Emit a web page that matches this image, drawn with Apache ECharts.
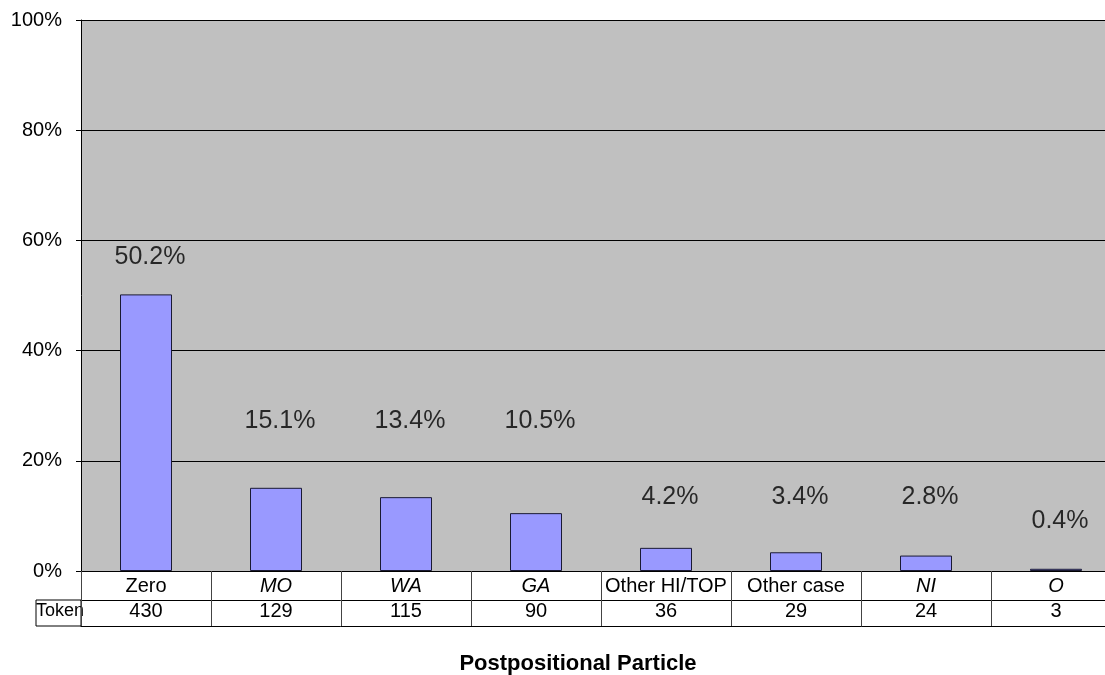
<html lang="en">
<head>
    <meta charset="UTF-8">
    <title>Postpositional Particle</title>
    <script src="https://cdn.jsdelivr.net/npm/echarts@6/dist/echarts.min.js"></script>
    <style type="text/css">
        html, body {
            margin: 0;
            padding: 0;
            background: #fff;
            overflow: hidden;
        }
        /* the plot runs past the right edge of the window, as in the original */
        #main {
            width: 1125px;
            height: 675px;
        }
    </style>
</head>
<body>
<div id="main"></div>
<script>
    // data
    var particles = ['Zero', 'MO', 'WA', 'GA', 'Other HI/TOP', 'Other case', 'NI', 'O'];
    var italicNames = ['MO', 'WA', 'GA', 'NI', 'O'];
    var shares = [50.2, 15.1, 13.4, 10.5, 4.2, 3.4, 2.8, 0.4];
    var tokens = [430, 129, 115, 90, 36, 29, 24, 3];
    var yTicks = [0, 0.2, 0.4, 0.6, 0.8, 1];
    // where Excel put the value labels (in axis units)
    var labelAt = [0.57, 0.272, 0.272, 0.272, 0.134, 0.134, 0.134, 0.091];

    var FONT = '"Liberation Sans", Arial, sans-serif';
    var GL = 81, GT = 20, GW = 1040, GH = 551;
    var ROW1 = 29, ROW2 = 26;

    var myChart = echarts.init(document.getElementById('main'));

    option = {
        animation: false,
        textStyle: {fontFamily: FONT, color: '#000'},
        title: {
            text: 'Postpositional Particle',
            left: 573,
            textAlign: 'center',
            top: 648,
            textStyle: {fontFamily: FONT, fontSize: 22, fontWeight: 'bold', color: '#000'}
        },
        grid: {
            left: GL,
            top: GT,
            width: GW,
            height: GH,
            show: true,
            backgroundColor: '#c0c0c0',
            borderWidth: 0
        },
        xAxis: [
            {
                type: 'category',
                data: particles,
                position: 'bottom',
                axisLine: {lineStyle: {color: '#000', width: 1}},
                axisTick: {show: true, length: ROW1 + ROW2, lineStyle: {color: '#444'}},
                axisLabel: {
                    interval: 0,
                    margin: 4,
                    fontSize: 20,
                    lineHeight: 22,
                    color: '#000',
                    formatter: function (v) {
                        return italicNames.indexOf(v) >= 0 ? '{i|' + v + '}' : v;
                    },
                    rich: {
                        i: {fontStyle: 'italic', fontSize: 20, color: '#000', fontFamily: FONT}
                    }
                }
            },
            {
                type: 'category',
                data: tokens.map(String),
                position: 'bottom',
                offset: ROW1,
                axisLine: {lineStyle: {color: '#000', width: 1}},
                axisTick: {show: false},
                axisLabel: {interval: 0, margin: 1, fontSize: 20, lineHeight: 20, color: '#000'}
            },
            {
                type: 'category',
                data: particles,
                position: 'bottom',
                offset: ROW1 + ROW2,
                axisLine: {lineStyle: {color: '#000', width: 1}},
                axisTick: {show: false},
                axisLabel: {show: false}
            }
        ],
        yAxis: {
            type: 'value',
            min: yTicks[0],
            max: yTicks[yTicks.length - 1],
            interval: 0.2,
            axisLine: {show: true, lineStyle: {color: '#000'}},
            axisTick: {show: true, length: 5, lineStyle: {color: '#000'}},
            axisLabel: {
                fontSize: 20,
                margin: 19,
                color: '#000',
                formatter: function (v) {
                    return Math.round(v * 100) + '%';
                }
            },
            splitLine: {
                show: true,
                lineStyle: {color: '#000', width: 1}
            }
        },
        series: [
            {
                type: 'bar',
                data: shares.map(function (s) {
                    return s / 100;
                }),
                barWidth: 52,
                itemStyle: {color: '#9999ff', borderColor: '#1a1a33', borderWidth: 1}
            },
            {
                type: 'scatter',
                symbolSize: 0,
                data: labelAt.map(function (y, i) {
                    return [i, y];
                }),
                label: {
                    show: true,
                    position: 'inside',
                    offset: [4, 0],
                    fontSize: 25,
                    color: '#000',
                    textBorderWidth: 0,
                    fontFamily: FONT,
                    formatter: function (p) {
                        return shares[p.dataIndex].toFixed(1) + '%';
                    }
                },
                silent: true
            }
        ],
        graphic: [
            {
                type: 'rect',
                shape: {x: 36, y: GT + GH + ROW1, width: GL - 36, height: ROW2},
                style: {fill: null, stroke: '#000', lineWidth: 1}
            },
            {
                type: 'text',
                x: 36,
                y: GT + GH + ROW1 + 11,
                style: {text: 'Token', fontSize: 18, fontFamily: FONT, fill: '#000', verticalAlign: 'middle'}
            }
        ]
    };
    myChart.setOption(option);
</script>
</body>
</html>
